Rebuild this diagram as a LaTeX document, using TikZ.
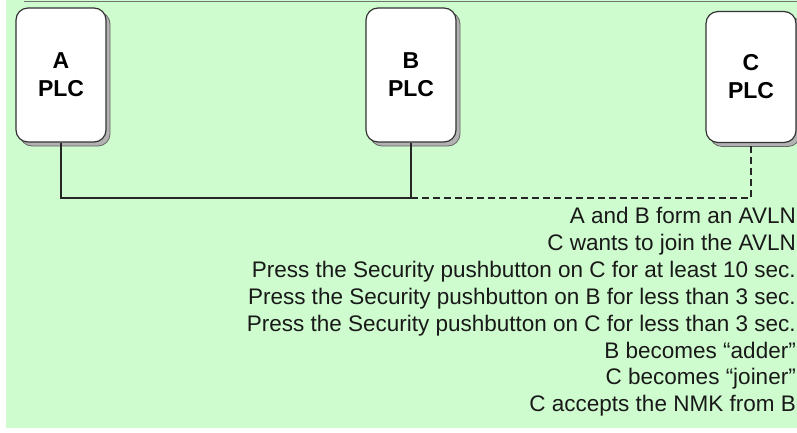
\documentclass[tikz,border=0pt]{standalone}
\usepackage{fontspec}
\setmainfont{Liberation Sans}
\usetikzlibrary{shadows}
\definecolor{slidegreen}{RGB}{206,252,206}
\tikzset{
    plcbox/.style={draw=black!80, line width=1.2pt, fill=white, rounded corners=12pt,
        minimum width=90pt, minimum height=134pt, align=center,
        font=\fontsize{23}{28}\selectfont\bfseries,
        copy shadow={shadow xshift=4pt, shadow yshift=-4pt, fill=black!30, draw=black!60, line width=0.8pt}},
    bus/.style={line width=1.1pt, black!85},
    notes/.style={align=right, inner sep=0pt, font=\fontsize{22.5}{26.9}\selectfont, text=black!90}
}
\begin{document}
\begin{tikzpicture}[x=1pt, y=-1pt]
    \useasboundingbox (0,0) rectangle (797,432);
    \fill[slidegreen] (6,0) rectangle (797,428);
    \draw[black!55, line width=1pt] (24,1.5) -- (797,1.5);
    \node[plcbox] (A) at (61,75) {A\\PLC};
    \node[plcbox] (B) at (411,75) {B\\PLC};
    \node[plcbox, minimum height=131pt] (C) at (751,77) {C\\PLC};
    \coordinate (jB) at (B.south |- 0,198);
    \draw[bus] (A.south) |- (jB);
    \draw[bus] (B.south) -- (jB);
    \draw[bus, dashed, dash pattern=on 7pt off 4pt] (jB) -| (C.south);
    \node[notes, anchor=north east] (steps) at (796,207) {A and B form an AVLN\\
        C wants to join the AVLN\\
        Press the Security pushbutton on C for at least 10 sec.\\
        Press the Security pushbutton on B for less than 3 sec.\\
        Press the Security pushbutton on C for less than 3 sec.\\
        B becomes “adder”\\
        C becomes “joiner”\\
        C accepts the NMK from B};
\end{tikzpicture}
\end{document}
